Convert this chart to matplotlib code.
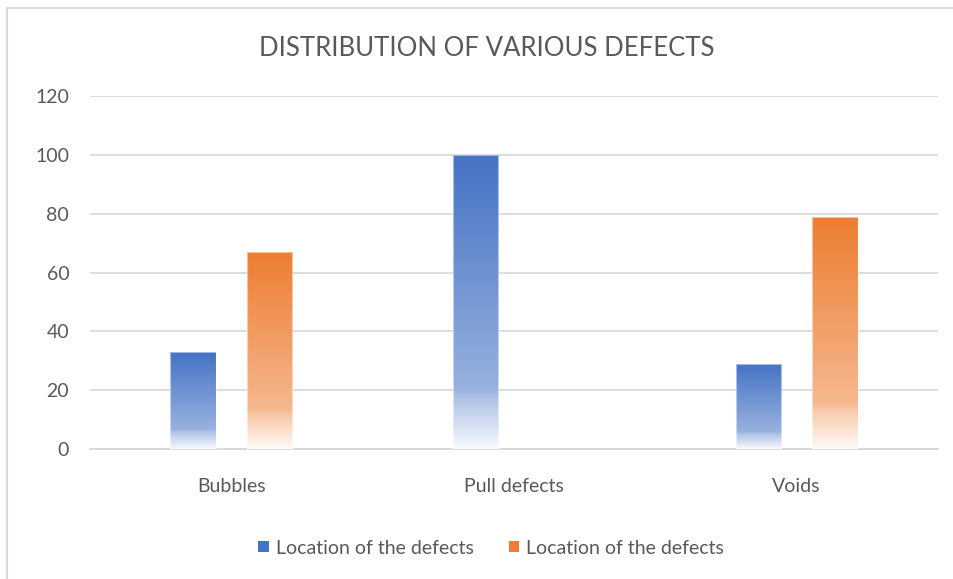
import matplotlib.pyplot as plt
import matplotlib.colors as mcolors
import numpy as np
from matplotlib.patches import Rectangle, Patch
from matplotlib.lines import Line2D

categories = ['Bubbles', 'Pull defects', 'Voids']
series_names = ['Location of the defects', 'Location of the defects']
blue_values = [33, 100, 29]
orange_values = [67, 0, 79]
yticks = [0, 20, 40, 60, 80, 100, 120]

BLUE = '#4472C4'
ORANGE = '#ED7D31'
TEXT = '#595959'
GRID = '#D9D9D9'


def gradient_cmap(color):
    """Excel-like linear-down gradient: colour at top, fading to white at the base"""
    c = np.array(mcolors.to_rgb(color))
    w = np.ones(3)
    mix = lambda t: tuple(c * (1 - t) + w * t)
    stops = [(0.0, mix(0.0)), (0.80, mix(0.45)), (0.83, mix(0.58)), (1.0, mix(0.96))]
    return mcolors.LinearSegmentedColormap.from_list('g', stops)


def gradient_bars(ax, xs, heights, width, color):
    cmap = gradient_cmap(color)
    grad = np.linspace(0, 1, 256).reshape(-1, 1)
    for x, h in zip(xs, heights):
        if h <= 0:
            continue
        x0 = x - width / 2
        im = ax.imshow(grad, cmap=cmap, aspect='auto', interpolation='bilinear',
                       extent=(x0, x0 + width, 0, h), origin='upper', zorder=3)
        rect = Rectangle((x0, 0), width, h, facecolor='none',
                         edgecolor=mcolors.to_rgba('white', 0.5), lw=0.8, zorder=4)
        ax.add_patch(rect)
        im.set_clip_path(rect)


plt.rcParams['font.family'] = ['Lato', 'DejaVu Sans']

fig = plt.figure(figsize=(9.54, 5.79), dpi=100)
ax = fig.add_axes([90 / 954, 1 - 449 / 579, (938 - 90) / 954, (449 - 96) / 579])

x = np.arange(len(categories))
width = 0.16
offset = 0.136
gradient_bars(ax, x - offset, blue_values, width, BLUE)
gradient_bars(ax, x + offset, orange_values, width, ORANGE)

ax.set_xlim(-0.5, len(categories) - 0.5)
ax.set_ylim(0, 120)
ax.set_yticks(yticks)
ax.set_xticks(x)
ax.set_xticklabels(categories)
ax.grid(axis='y', color=GRID, lw=1.3, zorder=0)
ax.set_axisbelow(True)
for s in ['top', 'right', 'left']:
    ax.spines[s].set_visible(False)
ax.spines['bottom'].set_color(GRID)
ax.spines['bottom'].set_linewidth(1.3)
ax.tick_params(axis='both', length=0, colors=TEXT, labelsize=14)
ax.tick_params(axis='y', pad=15)
ax.tick_params(axis='x', pad=21)

fig.text(487 / 954, 1 - 48 / 579, 'DISTRIBUTION OF VARIOUS DEFECTS', ha='center',
         va='center', fontsize=18.5, color=TEXT)

handles = [Patch(facecolor=BLUE), Patch(facecolor=ORANGE)]
fig.legend(handles, series_names, loc='center', bbox_to_anchor=(491 / 954, 1 - 548 / 579),
           ncol=2, frameon=False, fontsize=14, labelcolor=TEXT, handlelength=0.55,
           handleheight=0.55, handletextpad=0.35, columnspacing=1.8)

# chart frame (left and top edges)
fig.add_artist(Line2D([7 / 954, 7 / 954], [0, 1 - 8 / 579], color='#D9D9D9', lw=1.5))
fig.add_artist(Line2D([7 / 954, 1], [1 - 8 / 579, 1 - 8 / 579], color='#D9D9D9', lw=1.5))

fig.savefig('out.png', dpi=100)
